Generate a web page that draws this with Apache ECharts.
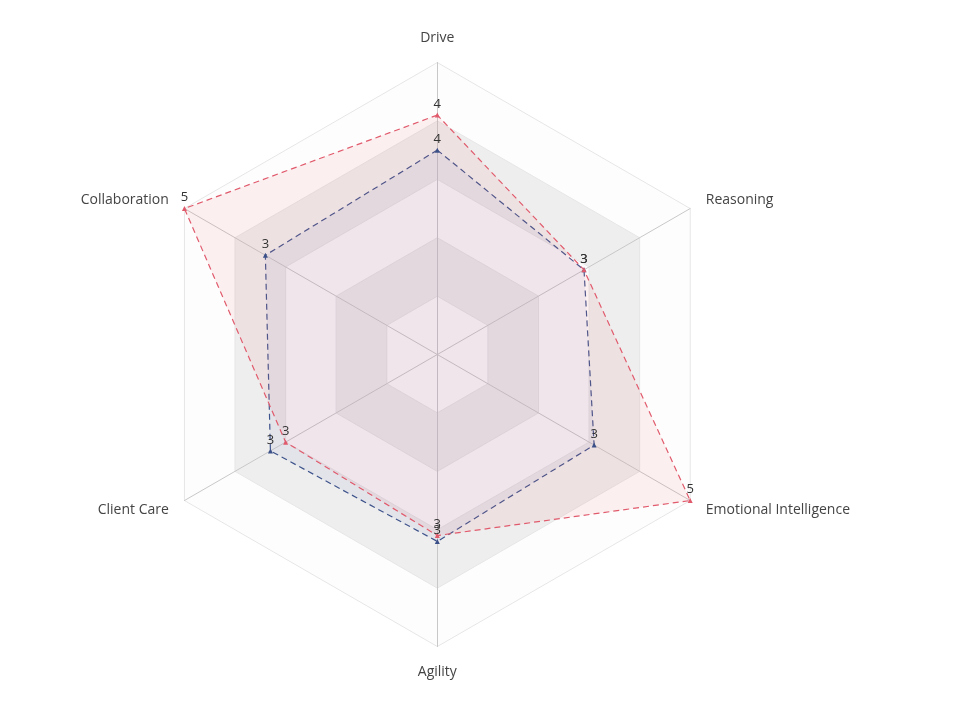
<!DOCTYPE html>
<html>
<head>
<meta charset="utf-8">
<script src="https://cdn.jsdelivr.net/npm/echarts@6/dist/echarts.min.js"></script>
<style>
    html, body {margin:0; padding:0; background:#fff;}
    #radar {width:974px; height:728px;}
</style>
</head>
<body>
<div id="radar"></div>
<script>
// indicators listed counterclockwise from the top, as echarts lays them out
var indicators = ['Drive', 'Collaboration', 'Client Care', 'Agility', 'Emotional Intelligence', 'Reasoning'];
var maxValue = 5;
var redValues = [4.1, 5.0, 3.0, 3.1, 5.0, 2.9];
var blueValues = [3.5, 3.4, 3.3, 3.2, 3.1, 2.9];

function drawRadar(){
    var chart = echarts.init(document.getElementById('radar'));
    var labelStyle = {
        show: true,
        position: 'top',
        distance: 2,
        color: '#333',
        fontSize: 13,
        fontFamily: 'Open Sans',
        formatter: function (p) {
            return Math.round(p.value);
        }
    };
    var option = {
        animation: false,
        radar: {
            center: ['44.9%', '48.7%'],
            radius: 292,
            splitNumber: 5,
            indicator: indicators.map(function (n) {
                return {name: n, max: maxValue};
            }),
            axisName: {
                color: '#444',
                fontSize: 14,
                fontFamily: 'Open Sans'
            },
            nameGap: 18,
            axisLine: {lineStyle: {color: '#c8c8c8'}},
            splitLine: {lineStyle: {color: '#e6e6e6'}},
            splitArea: {
                areaStyle: {
                    color: ['rgba(250,250,250,0.3)', 'rgba(200,200,200,0.3)']
                }
            }
        },
        series: [
            {
                type: 'radar',
                symbol: 'triangle',
                symbolSize: 5,
                data: [
                    {
                        value: blueValues,
                        itemStyle: {color: '#3b5088'},
                        lineStyle: {color: '#3b5088', type: [6, 4], width: 1.2},
                        areaStyle: {color: 'rgba(120,140,200,0.15)'},
                        label: labelStyle
                    },
                    {
                        value: redValues,
                        itemStyle: {color: '#e05a6c'},
                        lineStyle: {color: '#e05a6c', type: [6, 4], width: 1.2},
                        areaStyle: {color: 'rgba(240,110,120,0.15)'},
                        label: labelStyle
                    }
                ]
            }
        ]
    };
    chart.setOption(option);
}

drawRadar();
</script>
</body>
</html>
